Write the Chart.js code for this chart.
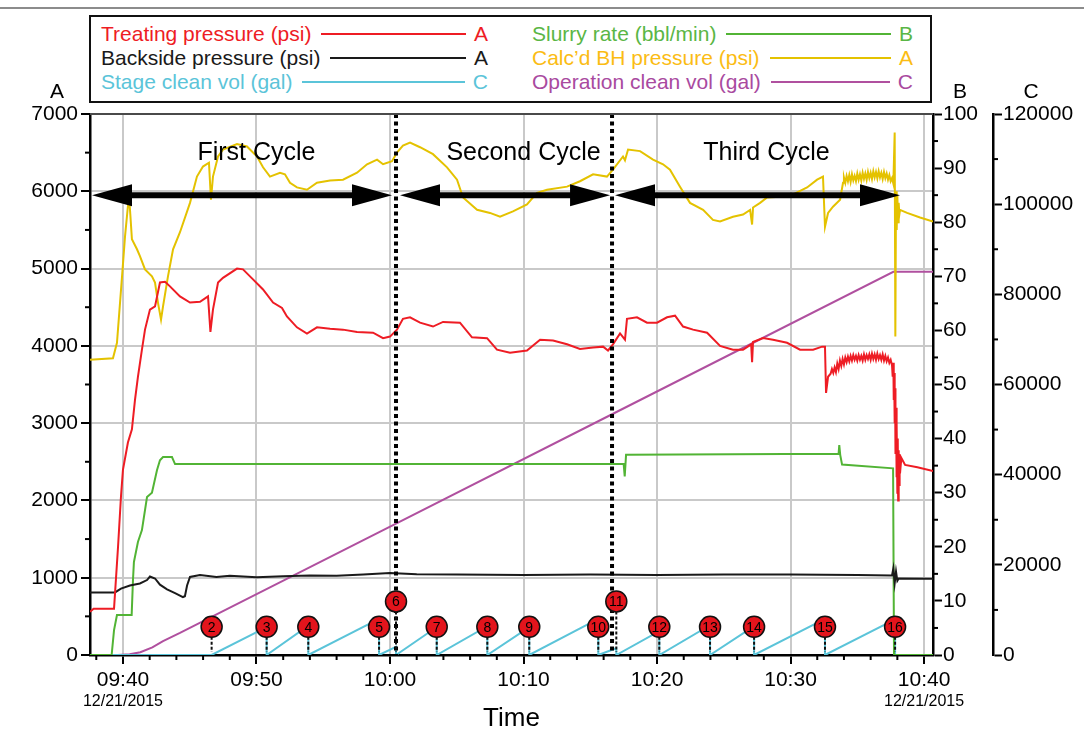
<!DOCTYPE html>
<html>
<head>
<meta charset="utf-8">
<script src="https://cdn.jsdelivr.net/npm/chart.js@4.4.1/dist/chart.umd.min.js"></script>
<style>
  body { margin: 0; background: #fff; font-family: "Liberation Sans", Arial, sans-serif; }
  #wrap { position: relative; width: 1084px; height: 739px; }
  #topline { position: absolute; left: 0; top: 7px; width: 1084px; border-top: 2px solid #8c8c8c; }
  #legend {
    position: absolute; left: 89px; top: 15px; width: 843px; height: 88px;
    box-sizing: border-box; border: 2px solid #111; background: #fff;
    padding: 5px 17px 0 10px;
    display: grid; grid-template-columns: 387px 381px; column-gap: 44px;
    grid-template-rows: repeat(3, 24px); grid-auto-flow: column;
  }
  .item { display: flex; align-items: center; font-size: 21px; line-height: 24px; white-space: nowrap; }
  .item i { flex: 1; height: 2px; margin: 0 8px 0 10px; }
</style>
</head>
<body>
<div id="wrap">
  <canvas id="chart" width="1084" height="739"></canvas>
  <div id="topline"></div>
  <div id="legend"></div>
</div>
<script>
// time is in minutes after 09:00
const xMin = 37.53, xMax = 100.67;
const xTicks = [40, 50, 60, 70, 80, 90, 100];
const dateTicks = [40, 100];
const dateText = '12/21/2015';

// [time, psi]
const treating = [
  [37.53, 560], [37.8, 600], [39.33, 600], [39.63, 1400], [39.85, 2050], [40.0, 2400], [40.37, 2750],
  [40.67, 2920], [40.9, 3300], [41.12, 3600], [41.42, 3950], [41.65, 4210], [42.02, 4470], [42.4, 4510],
  [42.77, 4820], [43.15, 4830], [43.52, 4770], [44.27, 4640], [45.02, 4560], [45.77, 4570], [46.37, 4640],
  [46.55, 4180], [46.74, 4470], [47.12, 4820], [47.49, 4880], [48.54, 5000], [48.99, 4990], [49.74, 4860],
  [50.49, 4730], [51.24, 4560], [51.91, 4490], [52.28, 4380], [53.03, 4240], [53.78, 4160], [54.53, 4240],
  [55.51, 4220], [56.48, 4210], [57.53, 4180], [58.73, 4170], [59.48, 4100], [60.0, 4120], [60.52, 4210],
  [60.97, 4350], [61.5, 4370], [62.25, 4300], [63.22, 4250], [63.97, 4310], [65.24, 4300], [66.14, 4110],
  [67.27, 4100], [68.01, 3950], [68.99, 3910], [70.26, 3940], [71.24, 4080], [72.21, 4070], [73.26, 4020],
  [74.23, 3960], [75.21, 3980], [75.96, 3990], [76.33, 3940], [76.7, 4020], [77.23, 4160], [77.6, 4080],
  [77.75, 4350], [78.5, 4370], [79.25, 4300], [80.0, 4300], [80.75, 4370], [81.35, 4390], [81.95, 4250],
  [82.7, 4210], [83.75, 4170], [84.72, 4000], [85.69, 3950], [86.44, 3950], [87.05, 4020], [87.12, 3790],
  [87.19, 4050], [87.94, 4100], [88.69, 4080], [89.74, 4040], [90.71, 3950], [91.69, 3950], [92.36, 3990],
  [92.58, 3990], [92.66, 3390], [92.81, 3600], [93.0, 3640], [93.1, 3700], [93.2, 3650], [93.3, 3720],
  [93.4, 3660], [93.5, 3770], [93.6, 3700], [93.7, 3810], [93.8, 3740], [93.9, 3830], [94.0, 3760],
  [94.1, 3850], [94.2, 3790], [94.3, 3860], [94.4, 3800], [94.5, 3870], [94.6, 3810], [94.7, 3880],
  [94.8, 3820], [94.9, 3870], [95.0, 3810], [95.1, 3880], [95.2, 3820], [95.3, 3870], [95.4, 3810],
  [95.5, 3890], [95.6, 3820], [95.7, 3880], [95.8, 3830], [95.9, 3890], [96.0, 3820], [96.1, 3900],
  [96.2, 3830], [96.3, 3890], [96.4, 3820], [96.5, 3900], [96.6, 3830], [96.7, 3880], [96.8, 3820],
  [96.9, 3890], [97.0, 3810], [97.1, 3870], [97.2, 3800], [97.3, 3850], [97.4, 3780], [97.5, 3820],
  [97.6, 3750], [97.65, 3600], [97.7, 3780], [97.73, 3300], [97.76, 3650], [97.8, 3000], [97.83, 3450],
  [97.86, 2600], [97.9, 3200], [97.93, 2300], [97.96, 3000], [98.0, 2100], [98.03, 2800], [98.06, 2000],
  [98.1, 2650], [98.13, 2200], [98.17, 2600], [98.2, 2350], [98.3, 2550], [98.58, 2460],
  [99.5, 2430], [100.67, 2380]
];

const backside = [
  [37.53, 810], [39.4, 810], [39.85, 860], [40.52, 900], [41.27, 925], [41.8, 970], [42.02, 1015],
  [42.4, 990], [42.77, 910], [43.3, 850], [43.9, 800], [44.49, 750], [44.64, 760], [44.8, 900],
  [45.02, 1010], [45.77, 1035], [47, 1010], [48, 1025], [50, 1005], [52, 1020], [54, 1030], [56, 1025],
  [58, 1040], [60, 1060], [62, 1045], [65, 1040], [70, 1035], [75, 1040], [80, 1035], [85, 1040],
  [90, 1040], [95, 1035], [97.6, 1030], [97.7, 1120], [97.8, 930], [97.9, 1080], [98.0, 960],
  [98.1, 990], [100.67, 985]
];

// [time, bbl/min]
const slurry = [
  [37.53, 0], [39.15, 0], [39.33, 4.6], [39.55, 7.4], [40.65, 7.4], [40.75, 13.9], [40.82, 17.2],
  [41.12, 20.9], [41.42, 23.1], [41.8, 29.2], [42.17, 30], [42.55, 34.2], [42.77, 36], [43.0, 36.6],
  [43.67, 36.6], [43.9, 35.3], [77.5, 35.3], [77.58, 33], [77.68, 37], [93.6, 37.2], [93.65, 38.8],
  [93.72, 37], [93.86, 35.2], [97.68, 34.5], [97.75, 0], [100.67, 0]
];

const bottomHole = [
  [37.53, 3820], [39.25, 3840], [39.55, 4040], [39.93, 4900], [40.15, 5410], [40.45, 5950], [40.55, 5700],
  [40.67, 5380], [41.05, 5250], [41.27, 5160], [41.65, 4990], [42.17, 4900], [42.4, 4820], [42.62, 4560],
  [42.85, 4340], [43.0, 4510], [43.37, 4900], [43.75, 5250], [44.27, 5470], [45.02, 5850], [45.54, 6190],
  [45.99, 6320], [46.44, 6370], [46.59, 5890], [46.74, 6190], [47.12, 6450], [47.49, 6540], [48.54, 6610],
  [49.29, 6580], [50.04, 6450], [50.49, 6310], [51.01, 6190], [51.76, 6240], [52.13, 6220], [52.51, 6110],
  [53.03, 6050], [53.78, 6020], [54.53, 6110], [55.51, 6140], [56.48, 6150], [57.53, 6240], [58.28, 6350],
  [59.03, 6410], [59.48, 6350], [60.15, 6390], [60.52, 6500], [60.97, 6590], [61.5, 6630], [62.25, 6570],
  [63.22, 6480], [64.27, 6310], [65.02, 6150], [65.47, 5920], [66.52, 5760], [67.49, 5720], [68.24, 5670],
  [69.21, 5740], [70.26, 5830], [71.01, 5980], [71.76, 6020], [73.26, 6060], [74.23, 6130], [75.21, 6220],
  [76.25, 6190], [76.7, 6280], [77.45, 6450], [77.6, 6400], [77.83, 6540], [78.73, 6520], [79.7, 6410],
  [80.45, 6350], [80.97, 6280], [81.72, 6060], [82.47, 5850], [83.45, 5760], [84.19, 5630], [84.72, 5610],
  [85.69, 5670], [86.44, 5700], [86.97, 5760], [87.12, 5570], [87.19, 5790], [87.72, 5850], [88.24, 5920],
  [89.21, 5930], [90.19, 5960], [91.24, 6050], [91.99, 6150], [92.43, 6190], [92.58, 5540], [92.81, 5720],
  [93.18, 5800], [93.71, 5890], [93.93, 6110], [94.0, 6180], [94.1, 6110], [94.2, 6200], [94.3, 6130],
  [94.4, 6210], [94.5, 6120], [94.6, 6220], [94.7, 6140], [94.8, 6200], [94.9, 6130], [95.0, 6230],
  [95.1, 6150], [95.2, 6220], [95.3, 6140], [95.4, 6240], [95.5, 6160], [95.6, 6230], [95.7, 6150],
  [95.8, 6250], [95.9, 6170], [96.0, 6240], [96.1, 6160], [96.2, 6260], [96.3, 6180], [96.4, 6250],
  [96.5, 6170], [96.6, 6260], [96.7, 6180], [96.8, 6240], [96.9, 6160], [97.0, 6250], [97.1, 6170],
  [97.2, 6230], [97.3, 6150], [97.4, 6210], [97.5, 6130], [97.6, 6170], [97.7, 6100], [97.8, 6760],
  [97.85, 4120], [97.9, 6000], [97.95, 5500], [98.0, 5950], [98.05, 5600], [98.1, 5850], [98.15, 5700],
  [98.2, 5760], [98.73, 5720], [99.7, 5660], [100.67, 5610]
];

// [time, gal]
const operationVol = [
  [37.53, 0], [39.6, 0], [40.5, 150], [41.3, 600], [42.2, 1700], [43.0, 3100], [44.27, 4900],
  [60.45, 29150], [76.63, 53400], [97.7, 85000], [100.67, 85000]
];

// stage markers: name, start time, marker height (B units) and clean volume reached by the next stage
const stageNames = ['2', '3', '4', '5', '6', '7', '8', '9', '10', '11', '12', '13', '14', '15', '16'];
const stageTimes = [46.64, 50.76, 53.88, 59.18, 60.45, 63.5, 67.29, 70.43, 75.6, 76.95, 80.17, 83.97, 87.27, 92.58, 97.83];
const stageLevels = [5.2, 5.2, 5.2, 5.2, 9.9, 5.2, 5.2, 5.2, 5.2, 9.9, 5.2, 5.2, 5.2, 5.2, 5.2];
const stagePeaks = [6200, 6500, 8000, 1800, 6200, 6400, 6200, 8000, 1500, 5300, 6600, 6400, 8000, 7900];

// cycles
const cycleNames = ['First Cycle', 'Second Cycle', 'Third Cycle'];
const cycleTextAt = [50, 70, 88.2];
const cycleTextLevel = 6500;
const cycleFrom = [37.68, 60.75, 76.85];
const cycleTo = [60.15, 76.48, 98.2];
const cycleArrowLevel = 5950;
const cycleBreaks = [60.45, 76.63];

// sawtooth of the stage clean volume, reset at every stage
const stageClean = [[xMin, 0]];
stageTimes.forEach((t, i) => {
  stageClean.push([t, 0]);
  if (i < stagePeaks.length) stageClean.push([stageTimes[i + 1], stagePeaks[i]]);
});
stageClean.push([xMax, 0]);

const series = [
  { label: 'Treating pressure (psi)', axis: 'A', line: '#ee1c24', text: '#ee1c24', pts: treating, order: 1 },
  { label: 'Backside pressure (psi)', axis: 'A', line: '#1a1a1a', text: '#1a1a1a', pts: backside, order: 3 },
  { label: 'Stage clean vol (gal)', axis: 'C', line: '#5bc4d9', text: '#5bc4d9', pts: stageClean, order: 5 },
  { label: 'Slurry rate (bbl/min)', axis: 'B', line: '#52b435', text: '#5ab645', pts: slurry, order: 4 },
  { label: 'Calc\u2019d BH pressure (psi)', axis: 'A', line: '#e4c200', text: '#fbbc14', pts: bottomHole, order: 2 },
  { label: 'Operation clean vol (gal)', axis: 'C', line: '#b0509f', text: '#a94a9f', pts: operationVol, order: 6 }
];

// legend
const legendBox = document.getElementById('legend');
series.forEach(s => {
  const row = document.createElement('div');
  row.className = 'item';
  row.style.color = s.text;
  row.innerHTML = `<span>${s.label}</span><i style="background:${s.line}"></i><span>${s.axis}</span>`;
  legendBox.appendChild(row);
});

const FONT = '"Liberation Sans", Arial, sans-serif';
Chart.defaults.font.family = FONT;
Chart.defaults.color = '#000';

const hhmm = v => {
  const h = 9 + Math.floor(v / 60), m = Math.round(v % 60);
  return String(h).padStart(2, '0') + ':' + String(m).padStart(2, '0');
};
const plain = v => String(v);

function seg(ctx, x0, y0, x1, y1) {
  ctx.beginPath(); ctx.moveTo(x0, y0); ctx.lineTo(x1, y1); ctx.stroke();
}

function arrowHead(ctx, tipX, y, dir) {
  ctx.beginPath();
  ctx.moveTo(tipX, y);
  ctx.lineTo(tipX + dir * 40, y - 11);
  ctx.lineTo(tipX + dir * 40, y + 11);
  ctx.closePath();
  ctx.fill();
}

const annotations = {
  id: 'annotations',
  afterDatasetsDraw(chart) {
    const { ctx, chartArea: a, scales: { x, A, B } } = chart;
    ctx.save();
    // dotted cycle boundaries
    ctx.strokeStyle = '#000';
    ctx.lineWidth = 4;
    ctx.setLineDash([4, 3.5]);
    cycleBreaks.forEach(t => {
      const px = x.getPixelForValue(t);
      seg(ctx, px, a.top, px, a.bottom);
    });
    ctx.setLineDash([]);

    // cycle arrows and names
    const ay = A.getPixelForValue(cycleArrowLevel);
    ctx.fillStyle = '#000';
    ctx.lineWidth = 6;
    cycleFrom.forEach((t, i) => {
      const x0 = x.getPixelForValue(t), x1 = x.getPixelForValue(cycleTo[i]);
      seg(ctx, x0 + 30, ay, x1 - 30, ay);
      arrowHead(ctx, x0, ay, 1);
      arrowHead(ctx, x1, ay, -1);
    });
    ctx.font = '25px ' + FONT;
    ctx.textAlign = 'center';
    ctx.textBaseline = 'middle';
    const ty = A.getPixelForValue(cycleTextLevel);
    cycleNames.forEach((n, i) => ctx.fillText(n, x.getPixelForValue(cycleTextAt[i]), ty));

    // stage markers
    stageTimes.forEach((t, i) => {
      const px = x.getPixelForValue(t), py = B.getPixelForValue(stageLevels[i]);
      ctx.strokeStyle = '#111';
      ctx.lineWidth = 2;
      ctx.setLineDash([3, 2]);
      seg(ctx, px, py + 10, px, a.bottom - 3);
      ctx.setLineDash([]);
      ctx.beginPath();
      ctx.arc(px, py, 10.5, 0, Math.PI * 2);
      ctx.fillStyle = '#e3141c';
      ctx.fill();
      ctx.lineWidth = 1.5;
      ctx.stroke();
      ctx.fillStyle = '#000';
      ctx.font = '14px ' + FONT;
      ctx.fillText(stageNames[i], px, py + 1);
    });
    ctx.restore();
  },
  afterDraw(chart) {
    const { ctx, chartArea: a, scales: { x, A, B, C } } = chart;
    ctx.save();
    // frame top
    ctx.strokeStyle = '#4a4a4a';
    ctx.lineWidth = 2;
    seg(ctx, a.left, a.top, a.right, a.top);

    // minor ticks
    ctx.strokeStyle = '#000';
    ctx.lineWidth = 2;
    for (let m = 38; m <= 100; m += 2) {
      if (m % 10 === 0) continue;
      const px = x.getPixelForValue(m);
      seg(ctx, px, a.bottom, px, a.bottom + 5);
    }
    for (let v = 500; v < 7000; v += 1000) {
      const py = A.getPixelForValue(v);
      seg(ctx, a.left - 5, py, a.left, py);
    }
    for (let v = 5; v < 100; v += 10) {
      const py = B.getPixelForValue(v);
      seg(ctx, B.left, py, B.left + 5, py);
    }
    for (let v = 10000; v < 120000; v += 20000) {
      const py = C.getPixelForValue(v);
      seg(ctx, C.left, py, C.left + 5, py);
    }

    // date under the first and last time ticks
    ctx.fillStyle = '#000';
    ctx.font = '16px ' + FONT;
    ctx.textAlign = 'center';
    ctx.textBaseline = 'middle';
    dateTicks.forEach(t => ctx.fillText(dateText, x.getPixelForValue(t), 702));

    // axis letters
    ctx.font = '21px ' + FONT;
    ctx.fillText('A', A.right - 33, 92);
    ctx.fillText('B', B.left + 27, 92);
    ctx.fillText('C', C.left + 38, 92);
    ctx.restore();
  }
};

const gridStyle = { color: '#c9c9c9', lineWidth: 2, tickColor: '#000', tickLength: 9, tickWidth: 2 };
const sideGrid = { drawOnChartArea: false, tickColor: '#000', tickLength: 9, tickWidth: 2 };
const axisBorder = { color: '#000', width: 2.5 };
const tickFont = { size: 21 };

new Chart(document.getElementById('chart'), {
  type: 'line',
  data: {
    datasets: series.map(s => ({
      label: s.label,
      data: s.pts.map(([t, v]) => ({ x: t, y: v })),
      yAxisID: s.axis,
      borderColor: s.line,
      backgroundColor: s.line,
      borderWidth: 2,
      pointRadius: 0,
      tension: 0,
      fill: false,
      order: s.order
    }))
  },
  options: {
    responsive: false,
    animation: false,
    devicePixelRatio: 1,
    layout: { padding: { top: 114, left: 0, right: 10, bottom: 0 } },
    plugins: { legend: { display: false }, tooltip: { enabled: false } },
    scales: {
      x: {
        type: 'linear', position: 'bottom', min: xMin, max: xMax,
        afterBuildTicks: s => { s.ticks = xTicks.map(v => ({ value: v })); },
        afterFit: s => { s.height = 84; },
        ticks: { callback: v => hhmm(v), font: tickFont, color: '#000', maxRotation: 0, autoSkip: false, padding: 4 },
        grid: gridStyle,
        border: axisBorder,
        title: { display: true, text: 'Time', font: { size: 26 }, color: '#000', padding: { top: 0, bottom: 5 } }
      },
      A: {
        type: 'linear', position: 'left', min: 0, max: 7000,
        afterFit: s => { s.width = 90; },
        ticks: { stepSize: 1000, callback: plain, font: tickFont, color: '#000', padding: 3 },
        grid: gridStyle,
        border: axisBorder
      },
      B: {
        type: 'linear', position: 'right', min: 0, max: 100, weight: 1,
        afterFit: s => { s.width = 60; },
        ticks: { stepSize: 10, callback: plain, font: tickFont, color: '#000', padding: 1 },
        grid: sideGrid,
        border: axisBorder
      },
      C: {
        type: 'linear', position: 'right', min: 0, max: 120000, weight: 2,
        afterFit: s => { s.width = 81; },
        ticks: { stepSize: 20000, callback: plain, font: tickFont, color: '#000', padding: 1 },
        grid: sideGrid,
        border: axisBorder
      }
    }
  },
  plugins: [annotations]
});
</script>
</body>
</html>
